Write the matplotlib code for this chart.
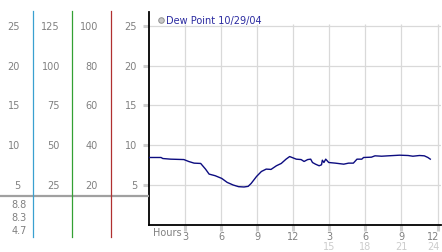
import matplotlib
matplotlib.use("Agg")
import matplotlib.pyplot as plt
from matplotlib.transforms import blended_transform_factory
from matplotlib.lines import Line2D

# ---- data ----
hours = [0, 1.0, 1.15, 1.8, 2.9, 3.3, 3.75, 4.3, 4.7, 5.0, 5.5, 6.05, 6.5, 7.0,
         7.45, 7.9, 8.25, 8.5, 8.95, 9.35, 9.75, 10.15, 10.6, 11.0, 11.4, 11.7,
         12.0, 12.25, 12.65, 12.9, 13.2, 13.45, 13.6, 13.85, 14.15, 14.35, 14.42,
         14.55, 14.7, 14.95, 15.5, 16.2, 16.6, 17.0, 17.3, 17.7, 17.85, 18.5,
         18.8, 19.35, 19.9, 20.85, 21.55, 21.95, 22.5, 22.9, 23.2, 23.4]
dew_point = [8.46, 8.46, 8.33, 8.25, 8.2, 7.96, 7.75, 7.71, 7.0, 6.37, 6.17, 5.83,
             5.33, 5.0, 4.79, 4.75, 4.83, 5.2, 6.08, 6.7, 7.0, 6.96, 7.42, 7.71,
             8.25, 8.58, 8.4, 8.25, 8.2, 7.96, 8.2, 8.25, 7.83, 7.62, 7.42, 7.54,
             8.12, 7.83, 8.25, 7.83, 7.75, 7.62, 7.75, 7.75, 8.25, 8.25, 8.46, 8.5,
             8.67, 8.62, 8.67, 8.75, 8.71, 8.62, 8.71, 8.67, 8.46, 8.25]
y_ticks = [5, 10, 15, 20, 25]
col1_labels = ["5", "10", "15", "20", "25"]
col2_labels = ["25", "50", "75", "100", "125"]
col3_labels = ["20", "40", "60", "80", "100"]
col4_labels = ["5", "10", "15", "20", "25"]
x_ticks = [3, 6, 9, 12, 15, 18, 21, 24]
x_labels = ["3", "6", "9", "12", "3", "6", "9", "12"]
x_labels2 = ["", "", "", "", "15", "18", "21", "24"]
summary = ["8.8", "8.3", "4.7"]
legend_label = "Dew Point 10/29/04"

W, H = 442, 253
fig = plt.figure(figsize=(W / 100, H / 100), dpi=100)
fig.patch.set_facecolor("white")

def fx(px):
    return px / W

def fy(py):
    return 1 - py / H

ax = fig.add_axes([fx(149), fy(225.75), fx(441) - fx(149), fy(13) - fy(225.75)])
ax.set_xlim(0, 24.29)
ax.set_ylim(0, 26.76)
for s in ["top", "right"]:
    ax.spines[s].set_visible(False)
for s in ["left", "bottom"]:
    ax.spines[s].set_color("black")
    ax.spines[s].set_linewidth(1.3)
ax.set_xticks(x_ticks)
ax.set_yticks(y_ticks)
ax.set_xticklabels([])
ax.set_yticklabels([])
ax.tick_params(axis="both", direction="out", length=4.5, width=2.2, color="#cfcfcf", pad=0)

grid_c = "#d9d9d9"
ax.hlines(y_ticks, 0, 24.29, color=grid_c, lw=0.9, zorder=1)
ax.vlines(x_ticks, 0, 25.3, color=grid_c, lw=0.9, zorder=1)

ax.plot(hours, dew_point, color="#0c0c80", lw=1.0, zorder=3)

# left panel axes
ax0 = fig.add_axes([0, 0, fx(149), 1])
ax0.set_xlim(0, 149)
ax0.set_ylim(H, 0)
ax0.axis("off")
tr = blended_transform_factory(ax0.transData, ax.transData)

txt_c = "#808080"
fs = 7
for v, a, b, c, d in zip(y_ticks, col1_labels, col2_labels, col3_labels, col4_labels):
    ax0.text(20, v, a, transform=tr, ha="right", va="center", fontsize=fs, color=txt_c)
    ax0.text(60, v, b, transform=tr, ha="right", va="center", fontsize=fs, color=txt_c)
    ax0.text(98, v, c, transform=tr, ha="right", va="center", fontsize=fs, color=txt_c)
    ax0.text(137, v, d, transform=tr, ha="right", va="center", fontsize=fs, color=txt_c)

# colored vertical lines and gray horizontal line
ax0.add_line(Line2D([0, 149], [197, 197], color="#a0a0a0", lw=1.6))
for xp, col in [(33, "#3aa0d0"), (72, "#33a033"), (111, "#b03030")]:
    ax0.add_line(Line2D([xp, xp], [12, 238], color=col, lw=0.9))

for i, s in enumerate(summary):
    ax0.text(27, 205 + i * 13, s, ha="right", va="center", fontsize=fs, color=txt_c)

# x tick labels
trx = blended_transform_factory(ax.transData, fig.transFigure)
for xv, l1, l2 in zip(x_ticks, x_labels, x_labels2):
    last = xv == x_ticks[-1]
    hx = xv + (0.15 if last else 0)
    ha = "right" if last else "center"
    fig.text(hx, fy(237), l1, transform=trx, ha=ha, va="center", fontsize=fs, color=txt_c)
    if l2:
        fig.text(hx, fy(247.5), l2, transform=trx, ha=ha, va="center", fontsize=fs,
                 color="#cccccc")
fig.text(fx(153), fy(233.5), "Hours", ha="left", va="center", fontsize=fs, color=txt_c)

# legend
fig.lines.append(Line2D([fx(160.7)], [fy(21)], transform=fig.transFigure, marker="o",
                        markersize=4, markerfacecolor="#c8c8c8", markeredgecolor="#909090",
                        markeredgewidth=0.7, linestyle="none"))
fig.text(fx(166), fy(21), legend_label, ha="left", va="center", fontsize=7, color="#2a2aa0")

fig.savefig("out.png", dpi=100)
